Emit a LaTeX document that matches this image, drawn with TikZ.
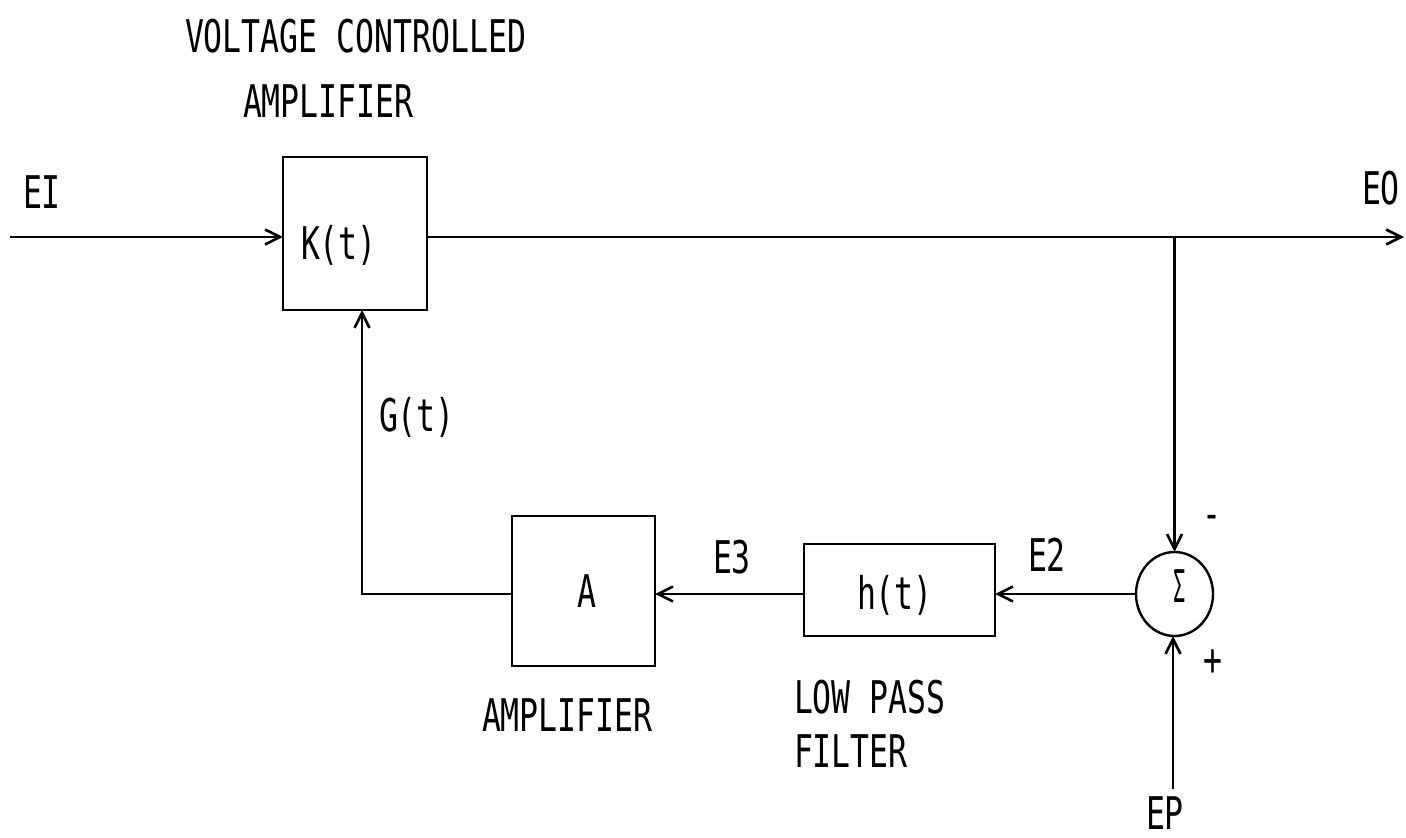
\documentclass[tikz,border=0pt]{standalone}
\usepackage{fontspec}
\usetikzlibrary{arrows.meta,shapes.geometric,calc}
\newfontfamily\lblfont{DejaVu Sans Mono}[FakeStretch=0.7]
\tikzset{
  lbl/.style={font=\lblfont\fontsize{22.5pt}{27pt}\selectfont, inner sep=0pt, outer sep=0pt},
  blockbox/.style={draw, line width=1.2pt, inner sep=0pt, outer sep=0pt},
  wire/.style={line width=1.2pt},
  arr/.style={line width=1.2pt, -{Straight Barb[length=7.5pt,width=7.5pt,line width=1.3pt]}},
}
\begin{document}
\begin{tikzpicture}[x=0.5pt,y=-0.5pt]
\useasboundingbox (0,0) rectangle (1406,838);
% blocks
\node[blockbox, minimum width=72pt, minimum height=76.5pt] (K) at (355,233.5) {};
\node[blockbox, minimum width=71.5pt, minimum height=75pt] (A) at (583.5,591) {};
\node[blockbox, minimum width=95.5pt, minimum height=46pt] (H) at (899.5,590) {};
\node[draw, ellipse, line width=1.2pt, minimum width=38.5pt, minimum height=42pt, inner sep=0pt, outer sep=0pt] (S) at (1174.5,594) {};
% coordinates
\coordinate (ein) at (10,237);
\coordinate (eout) at (1404,237);
\coordinate (branch) at (1174.5,237);
\coordinate (corner) at (362,594);
\coordinate (ep) at (1173,789);
% connectors
\draw[arr] (ein) -- (ein -| K.west);
\draw[arr] (ein -| K.east) -- (eout);
\draw[arr] (branch) -- (S.north);
\draw[arr] (ep) -- (ep |- S.south);
\draw[arr] (S.west) -- (S.west -| H.east);
\draw[arr] (S.west -| H.west) -- (S.west -| A.east);
\draw[arr] (S.west -| A.west) -- (corner) -- (corner |- K.south);
% labels
\node[lbl, anchor=base west] (t1) at (185,53) {VOLTAGE CONTROLLED};
\node[lbl, anchor=base west] (t2) at (243,118) {AMPLIFIER};
\node[lbl, anchor=base west] (tei) at (23,209) {EI};
\node[lbl, anchor=base west] (teo) at (1362,205) {EO};
\node[lbl, anchor=base west] (tk) at (301,260) {K(t)};
\node[lbl, anchor=base west] (tg) at (379,432) {G(t)};
\node[lbl, anchor=base] (ta) at (587,607) {A};
\node[lbl, anchor=base west] (te3) at (713,574) {E3};
\node[lbl, anchor=base west] (th) at (857,609) {h(t)};
\node[lbl, anchor=base west] (te2) at (1028,572) {E2};
\node[lbl, anchor=base, xscale=0.65] (tsig) at (1180,602) {Σ};
\node[lbl] (tminus) at (1212,522) {-};
\node[lbl] (tplus) at (1213,663) {+};
\node[lbl, anchor=base west] (tamp) at (482,731) {AMPLIFIER};
\node[lbl, anchor=base west] (tlow) at (794,713) {LOW PASS};
\node[lbl, anchor=base west] (tfil) at (794,767) {FILTER};
\node[lbl, anchor=base west] (tep) at (1146,829) {EP};
\end{tikzpicture}
\end{document}
